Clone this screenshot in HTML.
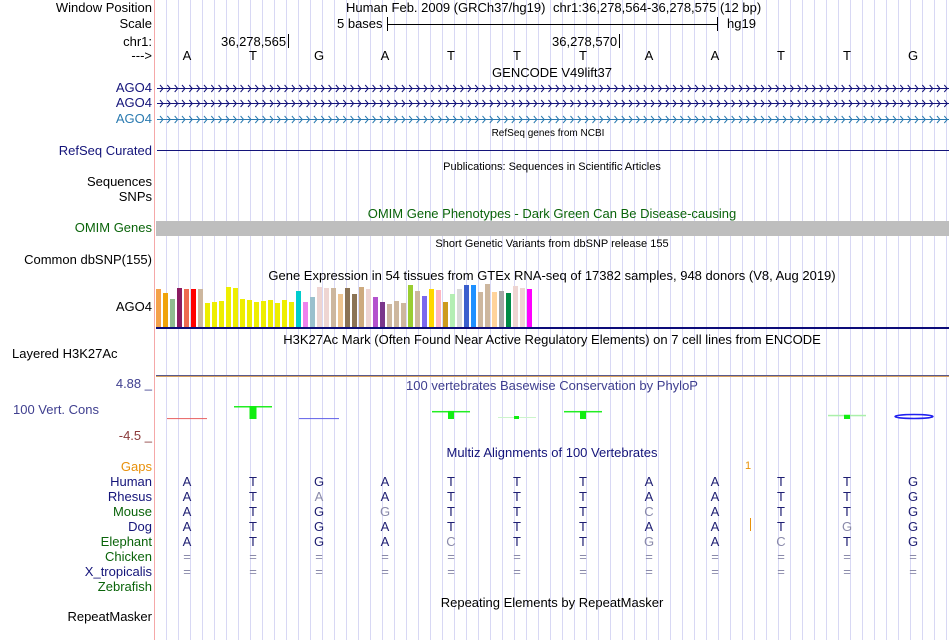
<!DOCTYPE html>
<html><head><meta charset="utf-8">
<style>
body{margin:0;width:950px;height:640px;position:relative;background:#fff;overflow:hidden;font-family:"Liberation Sans",Arial,sans-serif;}
.t{position:absolute;white-space:nowrap;font-size:13px;line-height:15px;}
.s{font-size:11px;line-height:14px;}
.r{text-align:right;width:152px;left:0;}
.c{transform:translateX(-50%);}
#grid{position:absolute;left:155px;top:0;width:795px;height:640px;background:repeating-linear-gradient(to right,transparent 0,transparent 11px,#d8d8f4 11px,#d8d8f4 12px);}
.h{position:absolute;}
</style></head><body>
<div id="grid"></div>
<div class="h" style="left:154px;top:0;width:1px;height:640px;background:#f5a8a8"></div>

<div class="t r" style="top:0px">Window Position</div>
<div class="t" style="left:346px;top:0px">Human Feb. 2009 (GRCh37/hg19)</div>
<div class="t" style="left:553px;top:0px">chr1:36,278,564-36,278,575 (12 bp)</div>
<div class="t r" style="top:16px">Scale</div>
<div class="t" style="left:337px;top:16px">5 bases</div>
<div class="h" style="left:387px;top:24px;width:330px;height:1px;background:#000"></div>
<div class="h" style="left:387px;top:17px;width:1px;height:14px;background:#000"></div>
<div class="h" style="left:717px;top:17px;width:1px;height:14px;background:#000"></div>
<div class="t" style="left:727px;top:16px">hg19</div>
<div class="t r" style="top:34px">chr1:</div>
<div class="t" style="left:221px;top:34px">36,278,565</div>
<div class="h" style="left:288px;top:34px;width:1px;height:14px;background:#000"></div>
<div class="t" style="left:552px;top:34px">36,278,570</div>
<div class="h" style="left:619px;top:34px;width:1px;height:14px;background:#000"></div>
<div class="t r" style="top:48px">---&gt;</div>

<div class="t c" style="left:552px;top:65px">GENCODE V49lift37</div>
<div class="t r" style="top:80px;color:#14147a">AGO4</div>
<div class="t r" style="top:95px;color:#14147a">AGO4</div>
<div class="t r" style="top:111px;color:#2a7ab0">AGO4</div>
<svg class="h" style="left:0;top:0" width="950" height="640">
<g id="genes"></g>
<line x1="157" y1="150.5" x2="949" y2="150.5" stroke="#14147a"/>
<rect x="156" y="221" width="793" height="15" fill="#bebebe"/>
<rect x="156" y="327" width="793" height="2" fill="#0c0c78"/>
<line x1="156" y1="375.5" x2="949" y2="375.5" stroke="#5a5a8a"/>
<line x1="156" y1="376.5" x2="949" y2="376.5" stroke="#d8a060"/>
<g id="gtex"></g>
<g id="cons"></g>
</svg>

<div class="t c" style="left:548px;top:127px;font-size:10px;line-height:13px">RefSeq genes from NCBI</div>
<div class="t r" style="top:143px;color:#14147a">RefSeq Curated</div>
<div class="t c s" style="left:552px;top:160px">Publications: Sequences in Scientific Articles</div>
<div class="t r" style="top:174px">Sequences</div>
<div class="t r" style="top:189px">SNPs</div>
<div class="t c" style="left:552px;top:206px;color:#0a640a">OMIM Gene Phenotypes - Dark Green Can Be Disease-causing</div>
<div class="t r" style="top:220px;color:#0a640a">OMIM Genes</div>
<div class="t c s" style="left:552px;top:237px">Short Genetic Variants from dbSNP release 155</div>
<div class="t r" style="top:252px">Common dbSNP(155)</div>
<div class="t c" style="left:552px;top:268px">Gene Expression in 54 tissues from GTEx RNA-seq of 17382 samples, 948 donors (V8, Aug 2019)</div>
<div class="t r" style="top:299px">AGO4</div>
<div class="t c" style="left:552px;top:332px">H3K27Ac Mark (Often Found Near Active Regulatory Elements) on 7 cell lines from ENCODE</div>
<div class="t" style="left:12px;top:346px">Layered H3K27Ac</div>
<div class="t r" style="top:376px;color:#3f3f8f">4.88 _</div>
<div class="t c" style="left:552px;top:378px;color:#3f3f8f">100 vertebrates Basewise Conservation by PhyloP</div>
<div class="t" style="left:13px;top:402px;color:#3f3f8f">100 Vert. Cons</div>
<div class="t r" style="top:428px;color:#8b3a3a">-4.5 _</div>
<div class="t c" style="left:552px;top:445px;color:#14147a">Multiz Alignments of 100 Vertebrates</div>
<div class="t r" style="top:459px;color:#e8900a">Gaps</div>
<div class="t" style="left:745px;top:459px;color:#e8900a;font-size:11px">1</div>
<div class="h" style="left:750px;top:518px;width:1px;height:13px;background:#e8900a"></div>
<div id="species"></div>
<div class="t c" style="left:552px;top:595px">Repeating Elements by RepeatMasker</div>
<div class="t r" style="top:609px">RepeatMasker</div>

<script>
const bases = ["A","T","G","A","T","T","T","A","A","T","T","G"];
const gtexValues = [38,34,28,39,38,38,38,24,25,26,40,39,28,27,25,26,27,24,27,25,36,25,30,40,39,39,33,39,33,40,38,30,25,23,26,24,42,36,31,38,37,25,33,38,42,42,35,43,35,36,34,41,39,38];
const gtexColors = ["#f4a14a","#f0a30a","#8fbc8f","#8b1c62","#ee6a50","#ff0000","#cdb79e","#eeee00","#eeee00","#eeee00","#eeee00","#eeee00","#eeee00","#eeee00","#eeee00","#eeee00","#eeee00","#eeee00","#eeee00","#eeee00","#00cdcd","#ee82ee","#9ac0cd","#eed5d2","#eed5d2","#cdb79e","#eec591","#8b7355","#8b7355","#cdaa7d","#eed5d2","#b452cd","#7a378b","#cdb79e","#cdb79e","#cdb79e","#9acd32","#cdb79e","#7b68ee","#ffd700","#ffb6c1","#cd9b1d","#b4eeb4","#d9d9d9","#3a5fcd","#1e90ff","#cdb79e","#cdb79e","#ffd39b","#a6a6a6","#008b45","#eed5d2","#eed5d2","#ff00ff"];
const consValues = [-0.1,1.0,-0.1,null,0.55,0.05,0.55,null,null,null,0.2,-0.1];
const speciesNames = ["Human","Rhesus","Mouse","Dog","Elephant","Chicken","X_tropicalis","Zebrafish"];
const speciesColors = ["#14147a","#14147a","#0a640a","#14147a","#0a640a","#0a640a","#14147a","#0a640a"];
const alignRows = ["ATGATTTAATTG","ATAATTTAATTG","ATGGTTTCATTG","ATGATTTAATGG","ATGACTTGACTG","============","============",""];
const NS="http://www.w3.org/2000/svg";
const xBase = i => 187 + 66*i;
const gtexX = i => 156 + 7*i;
const gtexY = v => 327 - v;
const consZero = 417;
const consY = v => consZero - v*11;

// gene chevrons
const gg=document.getElementById('genes');
[[88,"#14147a"],[103,"#14147a"],[119,"#2a7ab0"]].forEach(([y,col],k)=>{
  const grp=document.createElementNS(NS,'g');
  
  
  let d=`M157 ${y+0.5} L949 ${y+0.5}`;
  for(let x=160;x<947;x+=7.33){ d+=` M${x.toFixed(1)} ${y-3} L${(x+3).toFixed(1)} ${y+0.5} L${x.toFixed(1)} ${y+4}`; }
  const p=document.createElementNS(NS,'path');
  p.setAttribute('d',d); p.setAttribute('stroke',col); p.setAttribute('fill','none'); p.setAttribute('stroke-width','1');
  grp.appendChild(p); gg.appendChild(grp);
});

const g = document.getElementById('gtex');
gtexValues.forEach((v,i)=>{
  const r=document.createElementNS(NS,'rect');
  r.setAttribute('x',gtexX(i)); r.setAttribute('y',gtexY(v));
  r.setAttribute('width',5); r.setAttribute('height',327-gtexY(v));
  r.setAttribute('fill',gtexColors[i]);
  
  
  g.appendChild(r);
});
const c = document.getElementById('cons');
consValues.forEach((v,i)=>{
  if(v===null) return;
  const cx=xBase(i), y=consY(v);
  const grp=document.createElementNS(NS,'g');
  
  
  if(i===11){
    const e=document.createElementNS(NS,'ellipse');
    e.setAttribute('cx',cx+1); e.setAttribute('cy',consZero-0.5); e.setAttribute('rx',19); e.setAttribute('ry',2);
    e.setAttribute('fill','none'); e.setAttribute('stroke','#2020f0'); e.setAttribute('stroke-width','1.5');
    grp.appendChild(e); c.appendChild(grp); return;
  }
  if(v>0.1){
    const l=document.createElementNS(NS,'rect');
    l.setAttribute('x',cx-19); l.setAttribute('y',y); l.setAttribute('width',38); l.setAttribute('height',1.5); l.setAttribute('fill', v>0.3?"#22ee22":"#aaf0aa");
    grp.appendChild(l);
    const s=document.createElementNS(NS,'rect');
    const w = v>0.8?7:(v>0.3?6:6);
    s.setAttribute('x',cx-w/2); s.setAttribute('y',y); s.setAttribute('width',w); s.setAttribute('height',Math.max(4,consZero+2-y)); s.setAttribute('fill',"#11ee11");
    grp.appendChild(s);
  } else if(v>0){
    const l=document.createElementNS(NS,'rect');
    l.setAttribute('x',cx-19); l.setAttribute('y',consZero); l.setAttribute('width',38); l.setAttribute('height',1); l.setAttribute('fill',"#ccf4cc");
    grp.appendChild(l);
    const s=document.createElementNS(NS,'rect');
    s.setAttribute('x',cx-3); s.setAttribute('y',consZero-1); s.setAttribute('width',5); s.setAttribute('height',3); s.setAttribute('fill',"#11ee11");
    grp.appendChild(s);
  } else {
    const l=document.createElementNS(NS,'rect');
    l.setAttribute('x',cx-20); l.setAttribute('y',consY(v)); l.setAttribute('width',40); l.setAttribute('height',1);
    l.setAttribute('fill', i===0 ? "#e86060" : "#6060e8");
    grp.appendChild(l);
  }
  c.appendChild(grp);
});
const sp=document.getElementById('species');
speciesNames.forEach((n,k)=>{
  const top=474+15*k;
  const d=document.createElement('div');
  d.className='t r'; d.style.top=top+'px'; d.style.color=speciesColors[k]; d.textContent=n;
  
  
  sp.appendChild(d);
  const row=alignRows[k];
  for(let i=0;i<row.length;i++){
    const e=document.createElement('div');
    e.className='t c'; e.style.left=xBase(i)+'px'; e.style.top=top+'px';
    e.style.color = (row[i]===bases[i]) ? "#1e1e72" : "#8a8aaa";
    e.textContent=row[i];
    
    
    sp.appendChild(e);
  }
});
bases.forEach((b,i)=>{
  const e=document.createElement('div');
  e.className='t c'; e.style.left=xBase(i)+'px'; e.style.top='48px'; e.textContent=b;
  
  
  document.body.appendChild(e);
});
</script>
</body></html>
